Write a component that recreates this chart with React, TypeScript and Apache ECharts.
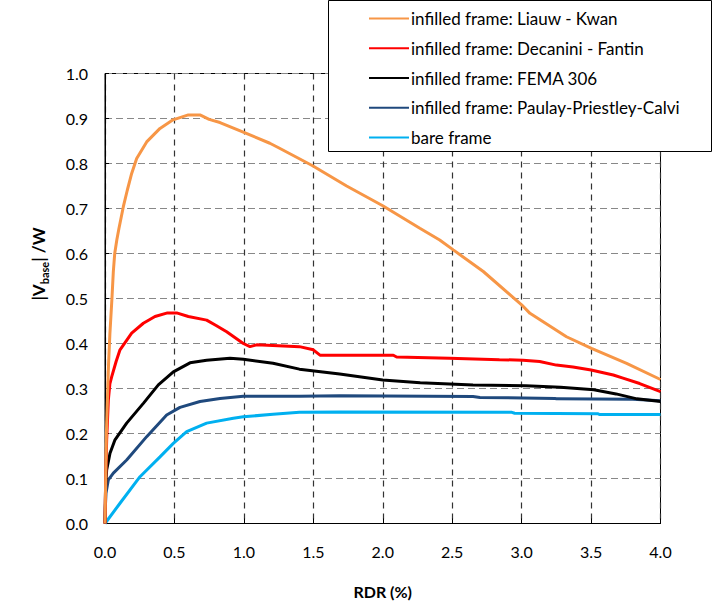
import React, { useEffect, useRef } from "react";
import * as echarts from "echarts";

const seriesNames = [
  "infilled frame: Liauw - Kwan",
  "infilled frame: Decanini - Fantin",
  "infilled frame: FEMA 306",
  "infilled frame: Paulay-Priestley-Calvi",
  "bare frame",
];

const liauwKwan = [
  [0, 0], [0.01, 0.2], [0.025, 0.35], [0.035, 0.42], [0.05, 0.5], [0.06, 0.56], [0.07, 0.6],
  [0.085, 0.63], [0.1, 0.655], [0.132, 0.704], [0.16, 0.74], [0.192, 0.778], [0.228, 0.811],
  [0.3, 0.848], [0.396, 0.878], [0.49, 0.897], [0.6, 0.908], [0.684, 0.908], [0.75, 0.898],
  [0.828, 0.891], [1.0, 0.869], [1.187, 0.845], [1.25, 0.835], [1.495, 0.795], [1.74, 0.75],
  [2.0, 0.706], [2.267, 0.656], [2.41, 0.63], [2.508, 0.608], [2.724, 0.56], [3.0, 0.486],
  [3.06, 0.467], [3.323, 0.415], [3.503, 0.389], [3.756, 0.356], [4.0, 0.32],
];

const decaniniFantin = [
  [0, 0], [0.005, 0.1], [0.012, 0.186], [0.024, 0.274], [0.035, 0.31], [0.048, 0.326],
  [0.08, 0.36], [0.108, 0.386], [0.192, 0.423], [0.276, 0.445], [0.36, 0.46], [0.45, 0.468],
  [0.516, 0.468], [0.6, 0.46], [0.732, 0.452], [0.8, 0.44], [0.876, 0.426], [0.996, 0.4],
  [1.044, 0.393], [1.092, 0.397], [1.4, 0.393], [1.5, 0.386], [1.548, 0.374], [2.076, 0.374],
  [2.1, 0.37], [2.48, 0.367], [2.84, 0.364], [3.01, 0.363], [3.13, 0.36], [3.25, 0.352],
  [3.37, 0.348], [3.5, 0.341], [3.66, 0.33], [3.73, 0.323], [3.85, 0.311], [4.0, 0.293],
];

const fema306 = [
  [0, 0], [0.004, 0.08], [0.012, 0.119], [0.036, 0.156], [0.072, 0.186], [0.156, 0.223],
  [0.276, 0.267], [0.384, 0.308], [0.492, 0.337], [0.612, 0.357], [0.732, 0.363], [0.9, 0.367],
  [0.996, 0.365], [1.21, 0.356], [1.4, 0.343], [1.69, 0.332], [2.0, 0.319], [2.27, 0.313],
  [2.65, 0.308], [3.03, 0.306], [3.28, 0.303], [3.52, 0.297], [3.68, 0.288], [3.83, 0.277],
  [4.0, 0.271],
];

const paulayPriestleyCalvi = [
  [0, 0], [0.003, 0.04], [0.007, 0.067], [0.024, 0.097], [0.06, 0.112], [0.156, 0.141],
  [0.3, 0.193], [0.444, 0.241], [0.54, 0.258], [0.684, 0.271], [0.828, 0.278], [0.996, 0.283],
  [1.4, 0.283], [1.69, 0.284], [2.65, 0.282], [2.7, 0.28], [3.24, 0.278], [3.25, 0.277],
  [3.8, 0.276], [4.0, 0.273],
];

const bareFrame = [
  [0, 0], [0.108, 0.045], [0.252, 0.104], [0.396, 0.148], [0.492, 0.178], [0.588, 0.204],
  [0.732, 0.223], [0.924, 0.234], [0.996, 0.237], [1.21, 0.243], [1.4, 0.247], [1.69, 0.248],
  [2.93, 0.247], [2.95, 0.245], [3.55, 0.244], [3.56, 0.242], [4.0, 0.242],
];

const seriesData = [liauwKwan, decaniniFantin, fema306, paulayPriestleyCalvi, bareFrame];
const seriesColors = ["#F79646", "#FF0000", "#000000", "#1F497D", "#00B0F0"];

const FONT = "Lato";

export default function App() {
  const ref = useRef<HTMLDivElement>(null);

  useEffect(() => {
    if (!ref.current) return;
    const chart = echarts.init(ref.current, undefined, { renderer: "svg" });
    chart.setOption({
      animation: false,
      backgroundColor: "#fff",
      grid: {
        left: 105,
        right: 60.5,
        top: 73.5,
        bottom: 84.5,
        show: true,
        borderColor: "#000",
        borderWidth: 1,
        backgroundColor: "transparent",
      },
      legend: {
        orient: "vertical",
        left: 328,
        top: 1,
        padding: [9, 0, 0, 40],
        itemWidth: 40,
        itemHeight: 14,
        itemGap: 12.75,
        z: 5,
        itemStyle: { opacity: 0 },
        textStyle: { fontFamily: FONT, fontSize: 17, color: "#000", padding: [0, 0, 0, -3] },
        data: seriesNames,
      },
      graphic: [
        {
          type: "rect",
          z: 4,
          shape: { x: 328.5, y: 0.5, width: 383, height: 151 },
          style: { fill: "#fff", stroke: "#000", lineWidth: 1 },
        },
        {
          type: "text",
          x: 37,
          y: 264,
          rotation: Math.PI / 2,
          style: {
            text: "{m||V}{s|base}{m|| /W}",
            align: "center",
            verticalAlign: "middle",
            rich: {
              m: { fontFamily: FONT, fontWeight: "bold", fontSize: 17, lineHeight: 20, fill: "#000", verticalAlign: "bottom" },
              s: { fontFamily: FONT, fontWeight: "bold", fontSize: 11, lineHeight: 14, fill: "#000", verticalAlign: "bottom", padding: [0, 0, -3, 0] },
            },
          },
        },
      ],
      xAxis: {
        type: "value",
        min: 0,
        max: 4,
        interval: 0.5,
        name: "RDR (%)",
        nameLocation: "middle",
        nameGap: 60,
        nameTextStyle: { fontFamily: FONT, fontWeight: "bold", fontSize: 16, color: "#000" },
        axisLine: { show: true, lineStyle: { color: "#000", width: 1 } },
        axisTick: { show: true, inside: true, length: 5, lineStyle: { color: "#000" } },
        axisLabel: {
          margin: 20,
          fontFamily: FONT,
          fontSize: 16,
          color: "#000",
          formatter: (v: number) => v.toFixed(1),
        },
        splitLine: { show: true, lineStyle: { color: "#333", width: 1.2, type: [6, 5] } },
      },
      yAxis: {
        type: "value",
        min: 0,
        max: 1,
        interval: 0.1,
        axisLine: { show: true, lineStyle: { color: "#000", width: 1 } },
        axisTick: { show: true, inside: true, length: 4, lineStyle: { color: "#000" } },
        axisLabel: {
          margin: 17,
          fontFamily: FONT,
          fontSize: 16,
          color: "#000",
          formatter: (v: number) => v.toFixed(1),
        },
        splitLine: { show: true, lineStyle: { color: "#888", width: 1.2, type: [7, 4] } },
      },
      series: seriesNames.map((name, i) => ({
        name,
        type: "line",
        data: seriesData[i],
        symbol: "none",
        showSymbol: false,
        z: 2 + (4 - i) * 0.01,
        lineStyle: { color: seriesColors[i], width: 3 },
        itemStyle: { color: seriesColors[i] },
      })),
    });
    return () => chart.dispose();
  }, []);

  return <div ref={ref} style={{ width: 721, height: 608, position: "absolute", left: 0, top: 0 }} />;
}
